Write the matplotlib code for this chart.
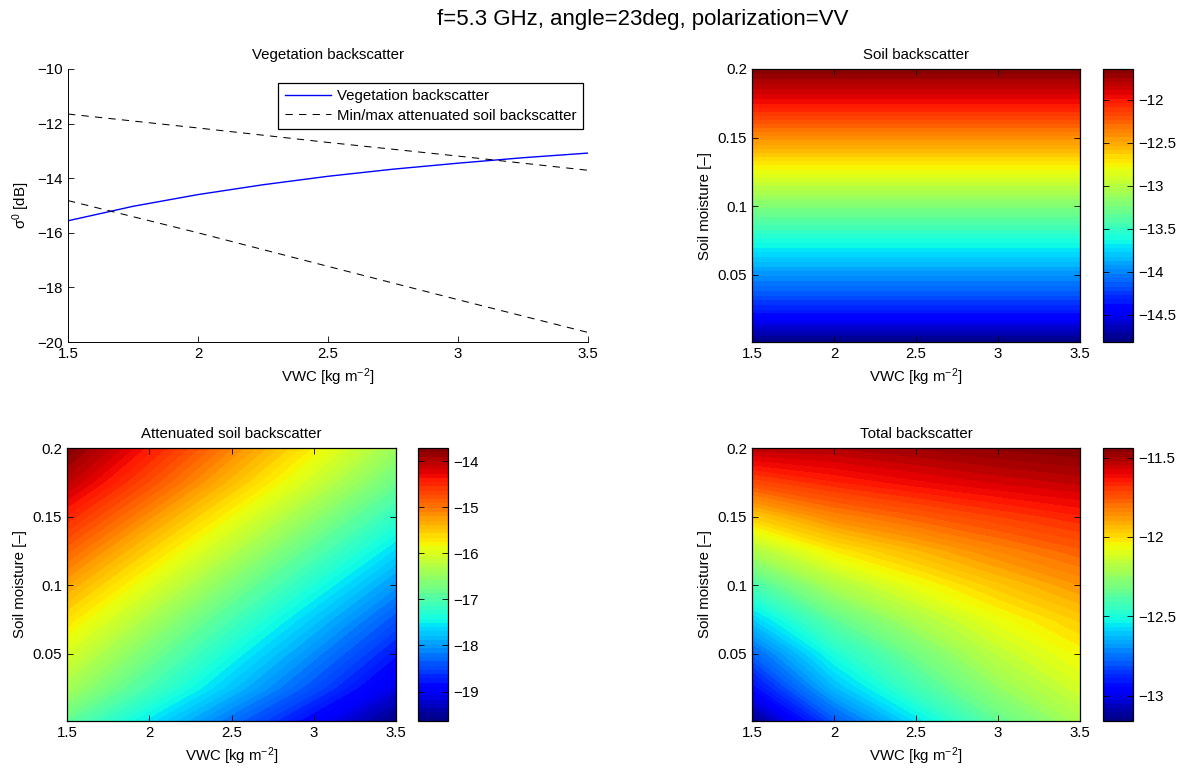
import numpy as np
import matplotlib
matplotlib.use("Agg")
import matplotlib.pyplot as plt

plt.rcParams['font.family'] = ['Liberation Sans', 'DejaVu Sans']
plt.rcParams['mathtext.fontset'] = 'custom'
plt.rcParams['mathtext.rm'] = 'Liberation Sans'
plt.rcParams['mathtext.it'] = 'Liberation Sans:italic'
FS = 10.8
plt.rcParams['font.size'] = FS

# ---------------- data ----------------
vwc_fine = [1.5, 1.75, 2.0, 2.25, 2.5, 2.75, 3.0, 3.25, 3.5]
veg_bs = [-15.56, -15.03, -14.60, -14.24, -13.93, -13.67, -13.45, -13.25, -13.08]

vwc = [1.5, 2.0, 2.5, 3.0, 3.5]
att_soil_max = [-11.65, -12.16, -12.69, -13.19, -13.71]
att_soil_min = [-14.82, -16.00, -17.23, -18.45, -19.65]

sm = [0.0, 0.025, 0.05, 0.075, 0.1, 0.125, 0.15, 0.175, 0.2]
soil_bs = [-14.82, -14.31, -13.96, -13.60, -13.21, -12.81, -12.40, -11.98, -11.64]

# rows: soil moisture (sm), columns: VWC (vwc)
att_soil_bs = [
    [-16.89, -17.58, -18.27, -18.95, -19.64],
    [-16.38, -17.07, -17.76, -18.44, -19.13],
    [-16.03, -16.72, -17.41, -18.09, -18.78],
    [-15.67, -16.36, -17.05, -17.73, -18.42],
    [-15.28, -15.97, -16.66, -17.34, -18.03],
    [-14.88, -15.57, -16.26, -16.94, -17.63],
    [-14.47, -15.16, -15.85, -16.53, -17.22],
    [-14.05, -14.74, -15.43, -16.11, -16.80],
    [-13.71, -14.40, -15.09, -15.77, -16.46],
]
total_bs = [
    [-13.16, -12.81, -12.57, -12.36, -12.21],
    [-12.94, -12.63, -12.42, -12.25, -12.12],
    [-12.78, -12.50, -12.32, -12.16, -12.05],
    [-12.60, -12.36, -12.20, -12.07, -11.97],
    [-12.41, -12.20, -12.07, -11.96, -11.87],
    [-12.20, -12.03, -11.93, -11.84, -11.77],
    [-11.97, -11.84, -11.77, -11.71, -11.66],
    [-11.73, -11.66, -11.61, -11.57, -11.54],
    [-11.53, -11.52, -11.49, -11.46, -11.44],
]

soil_ticks = [-12, -12.5, -13, -13.5, -14, -14.5]
att_ticks = [-14, -15, -16, -17, -18, -19]
total_ticks = [-11.5, -12, -12.5, -13]
sm_ticks = [0.05, 0.1, 0.15, 0.2]
vwc_ticks = [1.5, 2, 2.5, 3, 3.5]

# ---------------- figure ----------------
W, H = 1184, 769
fig = plt.figure(figsize=(W / 100, H / 100), dpi=100)


def rect(x0, y0, x1, y1):
    return [x0 / W, 1 - y1 / H, (x1 - x0) / W, (y1 - y0) / H]


fig.text(643 / W, 1 - 20 / H, 'f=5.3 GHz, angle=23deg, polarization=VV',
         ha='center', va='center', fontsize=16)

xlab = 'VWC [kg m$^{-2}$]'

# ---- top-left: line plot
ax = fig.add_axes(rect(68, 69, 588, 342))
ax.plot(vwc_fine, veg_bs, color='#0000ff', lw=1.0, label='Vegetation backscatter')
ax.plot(vwc, att_soil_max, color='black', lw=0.75, linestyle=(0, (7, 6)),
        label='Min/max attenuated soil backscatter')
ax.plot(vwc, att_soil_min, color='black', lw=0.75, linestyle=(0, (7, 6)))
ax.set_xlim(1.5, 3.5)
ax.set_ylim(-20, -10)
ax.set_xticks(vwc_ticks)
ax.set_xticklabels(['1.5', '2', '2.5', '3', '3.5'])
ax.set_yticks([-20, -18, -16, -14, -12, -10])
ax.spines['top'].set_visible(False)
ax.spines['right'].set_visible(False)
ax.tick_params(direction='in', length=4, width=0.6)
for s in ax.spines.values():
    s.set_linewidth(0.7)
ax.set_title('Vegetation backscatter', fontsize=FS, pad=7)
ax.set_xlabel(xlab)
ax.set_ylabel('σ$^{0}$ [dB]')
leg = ax.legend(loc='upper right', bbox_to_anchor=(0.99, 0.95), fancybox=False,
                edgecolor='black', framealpha=1, borderaxespad=0, handlelength=3.1,
                handletextpad=0.35, fontsize=FS, borderpad=0.45, labelspacing=0.35)
leg.get_frame().set_linewidth(0.9)


def heat(axrect, caxrect, Z, ticks, title, xvals, yvals):
    ax = fig.add_axes(rect(*axrect))
    Z = np.asarray(Z, dtype=float)
    levels = np.linspace(Z.min(), Z.max(), 65)
    cs = ax.contourf(xvals, yvals, Z, levels=levels, cmap='jet', antialiased=False)
    ax.set_xlim(1.5, 3.5)
    ax.set_ylim(0.0008, 0.2)
    ax.set_xticks(vwc_ticks)
    ax.set_xticklabels(['1.5', '2', '2.5', '3', '3.5'])
    ax.set_yticks(sm_ticks)
    ax.set_yticklabels(['0.05', '0.1', '0.15', '0.2'])
    ax.tick_params(direction='in', length=4, width=0.6, top=True, right=True)
    for s in ax.spines.values():
        s.set_linewidth(0.9)
    ax.set_title(title, fontsize=FS, pad=7)
    ax.set_xlabel(xlab)
    ax.set_ylabel('Soil moisture [–]')
    cax = fig.add_axes(rect(*caxrect))
    cb = fig.colorbar(cs, cax=cax)
    cb.set_ticks(ticks)
    cb.set_ticklabels([('%g' % t).replace('-', '−') for t in ticks])
    cax.tick_params(direction='in', length=4, width=0.6, left=True, right=True)
    cb.outline.set_linewidth(0.9)
    return ax


soil_grid = np.array([[s, s] for s in soil_bs])
heat((752, 69, 1080, 342), (1103, 69, 1133, 342), soil_grid, soil_ticks,
     'Soil backscatter', [1.5, 3.5], sm)
heat((67, 448, 396, 721), (418, 448, 448, 721), att_soil_bs, att_ticks,
     'Attenuated soil backscatter', vwc, sm)
heat((752, 448, 1080, 721), (1103, 448, 1133, 721), total_bs, total_ticks,
     'Total backscatter', vwc, sm)

fig.savefig('out.png', dpi=100)
